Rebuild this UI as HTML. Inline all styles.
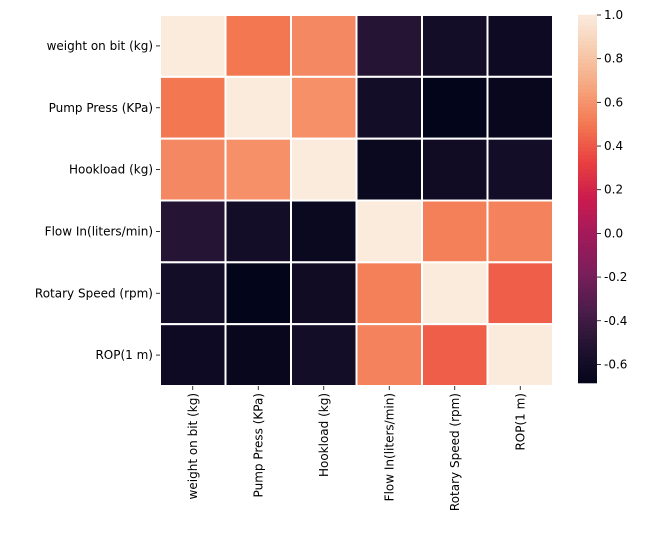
<!DOCTYPE html>
<html><head><meta charset="utf-8"><style>
body{margin:0;background:#fff;}
svg text{font-family:"DejaVu Sans","Liberation Sans",sans-serif;font-size:12px;fill:#000;}
</style></head><body>
<svg id="chart" width="650" height="541">
<g id="cells"></g><g id="ylab"></g><g id="xlab"></g><g id="cbar"></g>
</svg>
<script>
const labels=["weight on bit (kg)","Pump Press (KPa)","Hookload (kg)","Flow In(liters/min)","Rotary Speed (rpm)","ROP(1 m)"];
const row0=[1.0,0.50,0.56,-0.50,-0.59,-0.62];
const row1=[0.50,1.0,0.59,-0.59,-0.69,-0.66];
const row2=[0.56,0.59,1.0,-0.64,-0.61,-0.59];
const row3=[-0.50,-0.59,-0.64,1.0,0.53,0.54];
const row4=[-0.59,-0.69,-0.61,0.53,1.0,0.42];
const row5=[-0.62,-0.66,-0.59,0.54,0.42,1.0];
const cbTicks=[1.0,0.8,0.6,0.4,0.2,0.0,-0.2,-0.4,-0.6];
const vmin=-0.685,vmax=1.0;
const rows=[row0,row1,row2,row3,row4,row5];
const stops=["#03051A","#221331","#4C1D4B","#7A1E5A","#A11A5B","#CB1B4F","#E83F3F","#F37651","#F6A47C","#F7CAAC","#FAEBDD"];
function hex(h){return [1,3,5].map(i=>parseInt(h.substr(i,2),16));}
function cmap(v){let t=(v-vmin)/(vmax-vmin);t=Math.max(0,Math.min(1,t));const p=t*10,i=Math.min(9,Math.floor(p)),f=p-i;const a=hex(stops[i]),b=hex(stops[i+1]);return `rgb(${a.map((c,k)=>Math.round(c+(b[k]-c)*f)).join(',')})`;}
const NS="http://www.w3.org/2000/svg";
function mk(t,at,par){const e=document.createElementNS(NS,t);for(const k in at)e.setAttribute(k,at[k]);par.appendChild(e);return e;}
const X0=160,Y0=15,CW=393/6,CH=371/6;
const xs=i=>X0+i*CW, ys=j=>Y0+j*CH;
const cells=document.getElementById('cells');
rows.forEach((r,j)=>r.forEach((v,i)=>{
 const c=mk('rect',{x:xs(i),y:ys(j),width:CW,height:CH,fill:cmap(v),stroke:'#fff','stroke-width':2},cells);
 
 
}));
const yl=document.getElementById('ylab'),xl=document.getElementById('xlab');
labels.forEach((l,j)=>{
 const y=ys(j)+CH/2;
 mk('line',{x1:X0-4,x2:X0,y1:y,y2:y,stroke:'#000','stroke-width':0.8},yl);
 const t=mk('text',{x:X0-7,y:y+4,'text-anchor':'end'},yl);t.textContent=l;
 
 
 const x=xs(j)+CW/2,yb=Y0+371;
 mk('line',{x1:x,x2:x,y1:yb,y2:yb+4,stroke:'#000','stroke-width':0.8},xl);
 const u=mk('text',{x:0,y:0,'text-anchor':'end',transform:`translate(${x+4},${yb+7}) rotate(-90)`},xl);u.textContent=l;
 
 
});
const cb=document.getElementById('cbar');
const CX=578,CWd=19,CT=15,CB=383;
const cy=v=>CB-(v-vmin)/(vmax-vmin)*(CB-CT);
for(let k=0;k<100;k++){const v0=vmin+(vmax-vmin)*k/100,v1=vmin+(vmax-vmin)*(k+1)/100;
 mk('rect',{x:CX,y:cy(v1)-0.3,width:CWd,height:cy(v0)-cy(v1)+0.6,fill:cmap((v0+v1)/2)},cb);}
const cbr=mk('rect',{x:CX,y:CT,width:CWd,height:CB-CT,fill:'none'},cb);


cbTicks.forEach(v=>{const y=cy(v);
 mk('line',{x1:CX+CWd,x2:CX+CWd+4,y1:y,y2:y,stroke:'#000','stroke-width':0.8},cb);
 const t=mk('text',{x:CX+CWd+7,y:y+4},cb);t.textContent=v.toFixed(1);
 
 
});
</script>
</body></html>
